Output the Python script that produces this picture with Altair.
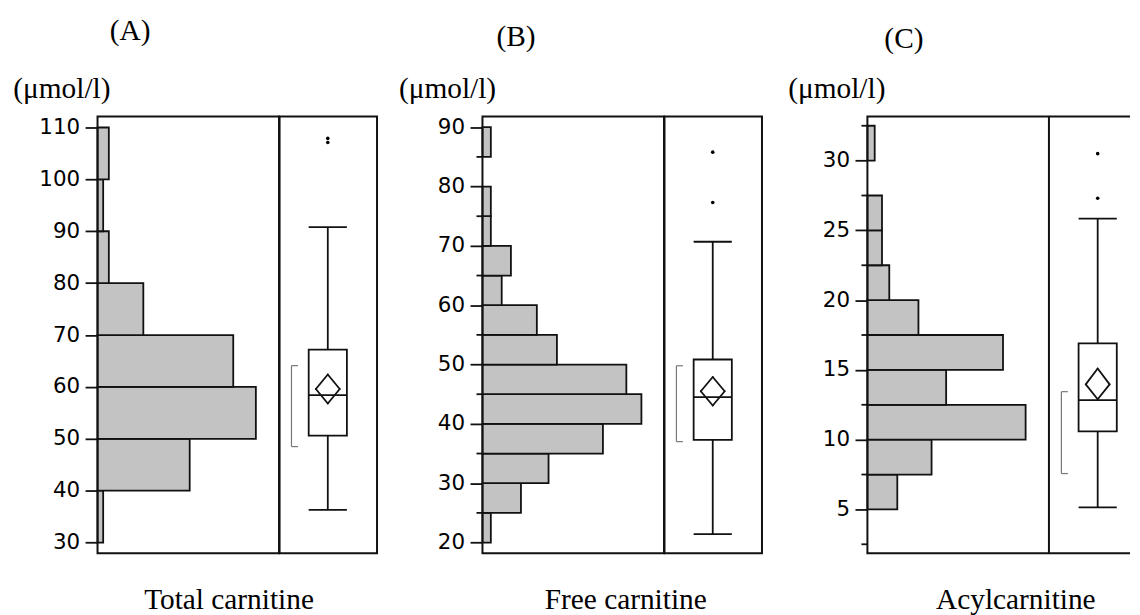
import altair as alt
import pandas as pd

# ---------------- data ----------------
PANEL_LETTERS = ["(A)", "(B)", "(C)"]
UNIT_LABEL = "(μmol/l)"
PANEL_NAMES = ["Total carnitine", "Free carnitine", "Acylcarnitine"]

# Histograms: bin lower edge, bin upper edge, bar length (count)
tc_lo = [30, 40, 50, 60, 70, 80, 90, 100]
tc_hi = [40, 50, 60, 70, 80, 90, 100, 110]
tc_count = [1, 16.3, 28, 24, 8.1, 2, 1, 2]

fc_lo = [20, 25, 30, 35, 40, 45, 50, 55, 60, 65, 70, 75, 80, 85]
fc_hi = [25, 30, 35, 40, 45, 50, 55, 60, 65, 70, 75, 80, 85, 90]
fc_count = [1, 4.6, 7.9, 14.4, 19, 17.2, 8.9, 6.5, 2.3, 3.4, 1, 1, 0, 1]

ac_lo = [5, 7.5, 10, 12.5, 15, 17.5, 20, 22.5, 25, 27.5, 30]
ac_hi = [7.5, 10, 12.5, 15, 17.5, 20, 22.5, 25, 27.5, 30, 32.5]
ac_count = [4.1, 8.8, 21.7, 10.8, 18.6, 7, 3, 2, 2, 0, 1]

# Box plot summaries (whiskers, quartiles, median, mean with CI diamond, shortest half bracket)
tc_box = dict(wlo=36.3, q1=50.6, med=58.4, q3=67.2, whi=90.8,
              mean=59.6, ci_lo=56.8, ci_hi=62.4, sh_lo=48.5, sh_hi=64.1)
fc_box = dict(wlo=21.4, q1=37.3, med=44.5, q3=50.85, whi=70.7,
              mean=45.5, ci_lo=43.1, ci_hi=47.9, sh_lo=37.0, sh_hi=49.8)
ac_box = dict(wlo=5.14, q1=10.6, med=12.84, q3=16.9, whi=25.84,
              mean=13.96, ci_lo=12.9, ci_hi=15.1, sh_lo=7.57, sh_hi=13.44)

tc_out = [107.1, 107.9]
fc_out = [77.3, 85.8]
ac_out = [27.3, 30.5]

# Axis ticks
tc_major = [30, 40, 50, 60, 70, 80, 90, 100, 110]
tc_minor = []
fc_major = [20, 30, 40, 50, 60, 70, 80, 90]
fc_minor = [25, 35, 45, 55, 65, 75, 85]
ac_major = [5, 10, 15, 20, 25, 30]
ac_minor = [2.5, 7.5, 12.5, 17.5, 22.5, 27.5, 32.5]

# Scale extents
tc_ydom = [27.95, 112.11]
fc_ydom = [18.2, 91.8]
ac_ydom = [1.86, 33.16]
tc_xmax = 32.1
fc_xmax = 21.7
ac_xmax = 24.9

# ---------------- layout / style ----------------
H = 439
HIST_W = 182.5
BOX_W = 98
BOX_W_LAST = 81
GAP = 105.3
BOX_CX = 48.5
BOX_HALF = 19.2
DIA_HALF = 12
BR_X = 12
BR_TICK = 6.5
LINE = "#111111"
BAR_FILL = "#c3c3c3"
SERIF = "Liberation Serif"
SANS = "DejaVu Sans"
TXT_SIZE = 29.5
LW = 1.8
FW = 2.0

# per panel text offsets: (letter center x, letter baseline y, unit left x, unit baseline y, name center x, name baseline y)
TEXT_POS = [
    (32.8, -76.5, -84.7, -18.5, 132.2, 495),
    (33.7, -71.0, -84.0, -18.5, 144.0, 495),
    (36.7, -69.0, -79.6, -18.5, 149.2, 495),
]


def text_layer(label, x, y, align):
    return alt.Chart(pd.DataFrame({"t": [label]})).mark_text(
        font=SERIF, fontSize=TXT_SIZE, color="black", align=align, baseline="alphabetic"
    ).encode(text="t:N", x=alt.value(x), y=alt.value(y))


def panel(i, lo, hi, counts, xmax, ydom, major, minor, box, outliers, box_w, open_right):
    yscale = alt.Scale(domain=ydom, nice=False, zero=False)
    yaxis = alt.Axis(
        values=major, tickSize=12.5, tickWidth=LW, tickColor=LINE,
        labelFont=SANS, labelFontSize=21.5, labelColor="black", labelPadding=5.5,
        labelFlush=False, labelOverlap=False, domain=False, grid=False, title=None)
    hist_df = pd.DataFrame({"lo": lo, "hi": hi, "count": counts})
    bars = alt.Chart(hist_df).transform_filter("datum.count > 0").mark_rect(
        fill=BAR_FILL, stroke=LINE, strokeWidth=LW
    ).encode(
        x=alt.X("count:Q", scale=alt.Scale(domain=[0, xmax], nice=False, zero=True), axis=None),
        x2=alt.value(0),
        y=alt.Y("lo:Q", scale=yscale, axis=yaxis),
        y2="hi:Q",
    )
    layers = [bars]
    if minor:
        layers.append(alt.Chart(pd.DataFrame({"v": minor})).mark_rule(
            color=LINE, strokeWidth=LW
        ).encode(x=alt.value(-6), x2=alt.value(0), y=alt.Y("v:Q", scale=yscale, axis=yaxis)))
    frame = alt.Chart(pd.DataFrame({"f": [0]})).mark_rect(
        fill="transparent", stroke=LINE, strokeWidth=FW
    ).encode(x=alt.value(0), x2=alt.value(HIST_W), y=alt.value(0), y2=alt.value(H))
    layers.append(frame)
    lx, ly, ux, uy, nx, ny = TEXT_POS[i]
    layers.append(text_layer(PANEL_LETTERS[i], lx, ly, "center"))
    layers.append(text_layer(UNIT_LABEL, ux, uy, "left"))
    layers.append(text_layer(PANEL_NAMES[i], nx, ny, "center"))
    hist = alt.layer(*layers).properties(width=HIST_W, height=H)

    bdf = pd.DataFrame([box])
    base = alt.Chart(bdf)
    y = lambda f: alt.Y(f + ":Q", scale=yscale, axis=None)
    bl = []
    # whiskers
    bl.append(base.mark_rule(color=LINE, strokeWidth=LW).encode(
        x=alt.value(BOX_CX), y=y("wlo"), y2="q1:Q"))
    bl.append(base.mark_rule(color=LINE, strokeWidth=LW).encode(
        x=alt.value(BOX_CX), y=y("q3"), y2="whi:Q"))
    for f in ["wlo", "whi"]:
        bl.append(base.mark_rule(color=LINE, strokeWidth=LW).encode(
            x=alt.value(BOX_CX - BOX_HALF), x2=alt.value(BOX_CX + BOX_HALF), y=y(f)))
    # box
    bl.append(base.mark_rect(fill="white", stroke=LINE, strokeWidth=LW).encode(
        x=alt.value(BOX_CX - BOX_HALF), x2=alt.value(BOX_CX + BOX_HALF), y=y("q1"), y2="q3:Q"))
    bl.append(base.mark_rule(color=LINE, strokeWidth=LW).encode(
        x=alt.value(BOX_CX - BOX_HALF), x2=alt.value(BOX_CX + BOX_HALF), y=y("med")))
    # mean diamond
    for xa, xb, fb in [(BOX_CX - DIA_HALF, BOX_CX, "ci_hi"), (BOX_CX + DIA_HALF, BOX_CX, "ci_hi"),
                       (BOX_CX - DIA_HALF, BOX_CX, "ci_lo"), (BOX_CX + DIA_HALF, BOX_CX, "ci_lo")]:
        bl.append(base.mark_rule(color=LINE, strokeWidth=LW, strokeCap="round").encode(
            x=alt.value(xa), x2=alt.value(xb), y=y("mean"), y2=fb + ":Q"))
    # shortest half bracket
    bl.append(base.mark_rule(color="#777777", strokeWidth=1.2).encode(
        x=alt.value(BR_X), y=y("sh_lo"), y2="sh_hi:Q"))
    for f in ["sh_lo", "sh_hi"]:
        bl.append(base.mark_rule(color="#777777", strokeWidth=1.2).encode(
            x=alt.value(BR_X), x2=alt.value(BR_X + BR_TICK), y=y(f)))
    # outliers
    bl.append(alt.Chart(pd.DataFrame({"v": outliers})).mark_circle(
        color="black", opacity=1, size=13
    ).encode(x=alt.value(BOX_CX), y=y("v")))
    # frame
    fdf = alt.Chart(pd.DataFrame({"f": [0]}))
    if open_right:
        for yy in [0, H]:
            bl.append(fdf.mark_rule(color=LINE, strokeWidth=FW).encode(
                x=alt.value(0), x2=alt.value(box_w), y=alt.value(yy)))
    else:
        bl.append(fdf.mark_rect(fill="transparent", stroke=LINE, strokeWidth=FW).encode(
            x=alt.value(0), x2=alt.value(box_w), y=alt.value(0), y2=alt.value(H)))
    boxp = alt.layer(*bl).properties(width=box_w, height=H)
    return hist, boxp


def spacer():
    return alt.Chart(pd.DataFrame({"s": [0]})).mark_rule(strokeOpacity=0).encode(
        x=alt.value(0), y=alt.value(0)).properties(width=GAP, height=H)


hA, bA = panel(0, tc_lo, tc_hi, tc_count, tc_xmax, tc_ydom, tc_major, tc_minor, tc_box, tc_out, BOX_W, False)
hB, bB = panel(1, fc_lo, fc_hi, fc_count, fc_xmax, fc_ydom, fc_major, fc_minor, fc_box, fc_out, BOX_W, False)
hC, bC = panel(2, ac_lo, ac_hi, ac_count, ac_xmax, ac_ydom, ac_major, ac_minor, ac_box, ac_out, BOX_W_LAST, True)

chart = alt.hconcat(
    hA, bA, spacer(), hB, bB, spacer(), hC, bC, spacing=0, bounds="flush"
).resolve_scale(x="independent", y="independent").resolve_axis(y="independent").properties(
    padding={"left": 4, "top": 6.5, "right": 0, "bottom": 0}
).configure_view(stroke="transparent")

chart.save("out.html", embed_options={"renderer": "svg", "actions": False})
